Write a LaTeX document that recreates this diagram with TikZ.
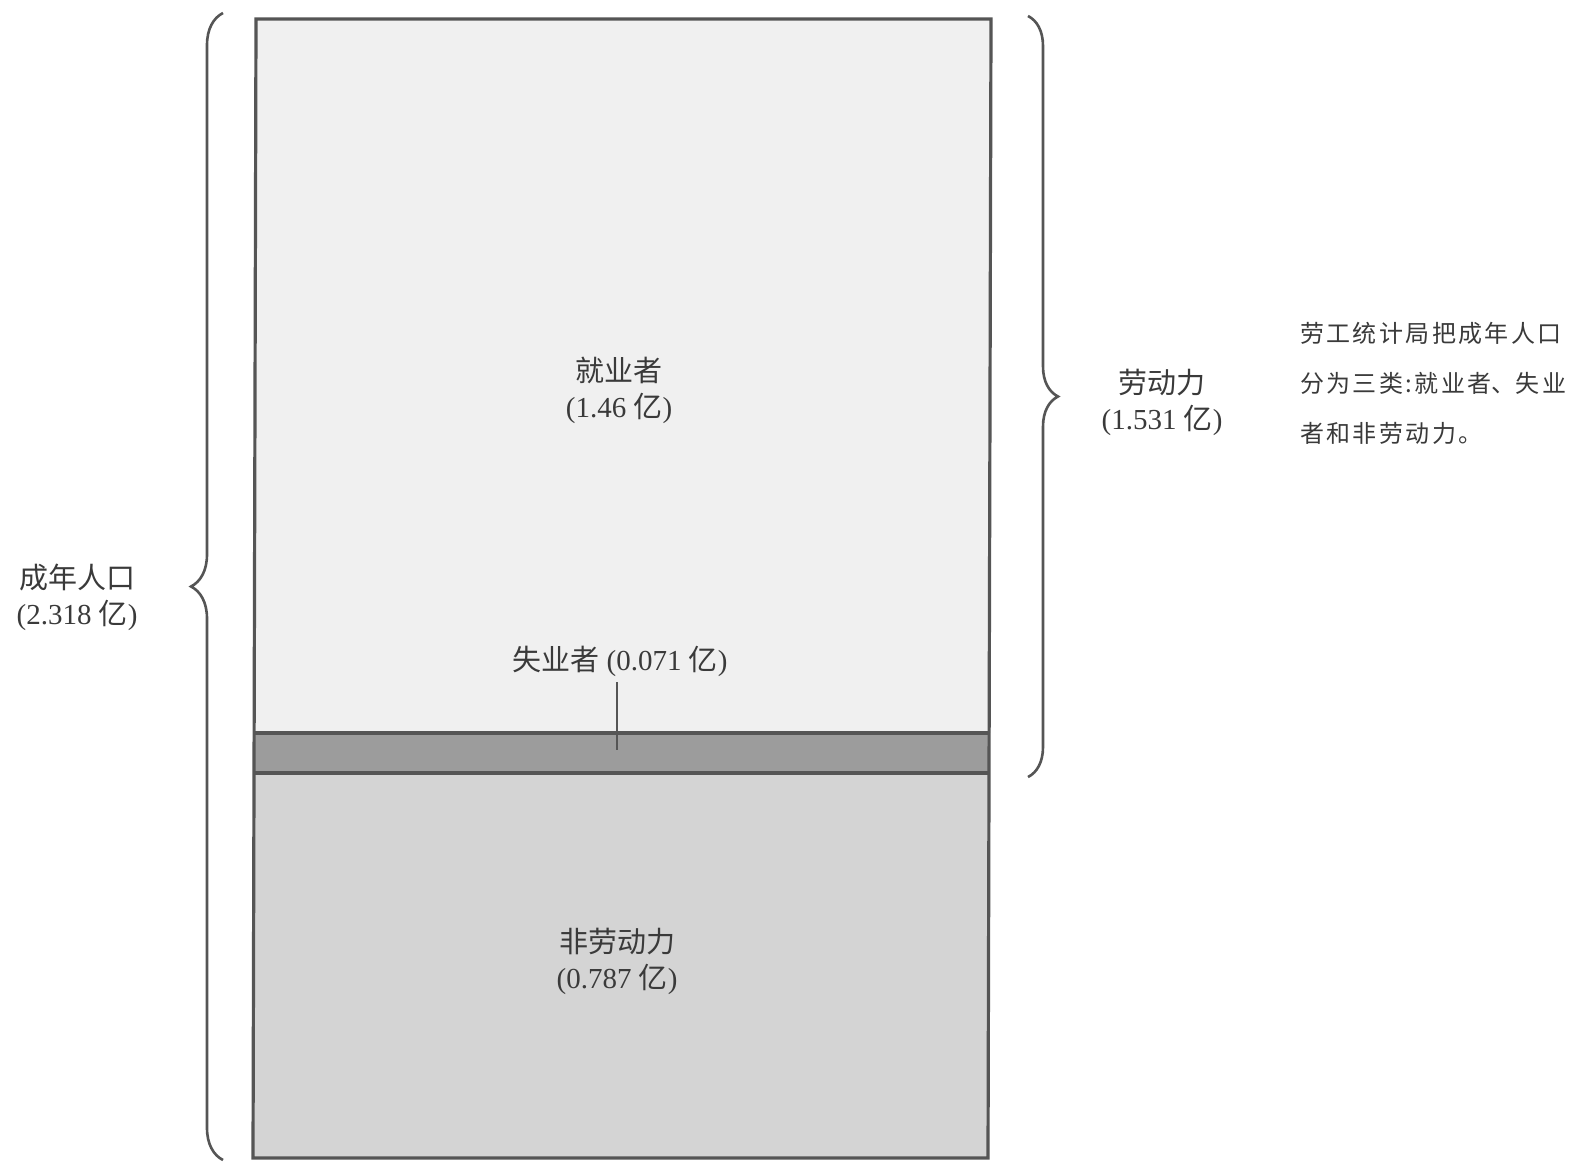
\documentclass[tikz,border=0pt]{standalone}
\usepackage{fontspec}
\setmainfont{Liberation Serif}
\newfontfamily\cjk{Noto Sans CJK SC}
\newfontfamily\cjksp[LetterSpace=10]{Noto Sans CJK SC}
\usetikzlibrary{decorations.pathreplacing}
\newcommand{\Yi}{{\cjk 亿}}
\definecolor{edge}{HTML}{555555}
\definecolor{txt}{HTML}{3A3A3A}
\definecolor{emp}{HTML}{F0F0F0}
\definecolor{unemp}{HTML}{9C9C9C}
\definecolor{nlf}{HTML}{D4D4D4}
\begin{document}
\begin{tikzpicture}[x=1pt,y=-1pt,
  box/.style={draw=edge,line width=3.2pt},
  lbl/.style={text=txt,align=center,font=\fontsize{29}{36}\selectfont,inner sep=0pt},
  side/.style={text=txt,align=left,font=\fontsize{24}{50}\selectfont\cjksp,inner sep=0pt,anchor=north west},
  bracestyle/.style={draw=edge,line width=2.6pt,decorate,decoration={brace,amplitude=32pt,aspect=0.5}}]
\useasboundingbox (0,0) rectangle (1578,1162);
% regions
\fill[emp] (256,19) rectangle (991,733);
\fill[unemp] (255,733) rectangle (990,773);
\fill[nlf] (254,773) rectangle (988,1158);
\draw[box] (255,733) -- (990,733);
\draw[box] (255,773) -- (989,773);
\draw[box] (256,19) -- (991,19) -- (988,1158) -- (253,1158) -- cycle;
% braces
\coordinate (lb1) at (223,1160);
\coordinate (lb2) at (223,13);
\draw[bracestyle] (lb1) -- (lb2);
\coordinate (rb1) at (1028,16);
\coordinate (rb2) at (1028,777);
\draw[bracestyle,decoration={amplitude=30pt}] (rb1) -- (rb2);
% labels
\node[lbl] (adult) at (77,597) {{\cjk 成年人口}\\(2.318 \Yi)};
\node[lbl] (empl) at (619,390) {{\cjk 就业者}\\(1.46 \Yi)};
\node[lbl] (unem) at (620,661) {{\cjk 失业者} (0.071 \Yi)};
\node[lbl] (nlfl) at (617,961) {{\cjk 非劳动力}\\(0.787 \Yi)};
\node[lbl] (lab) at (1162,402) {{\cjk 劳动力}\\(1.531 \Yi)};
\coordinate (band) at (617,750);
\draw[edge,line width=1.5pt] (unem.south -| band) ++(0,6) -- (band);
\node[side] (note) at (1300,322) {劳工统计局把成年人口\\分为三类:就业者{\cjk 、}失业\\者和非劳动力。};
\end{tikzpicture}
\end{document}
